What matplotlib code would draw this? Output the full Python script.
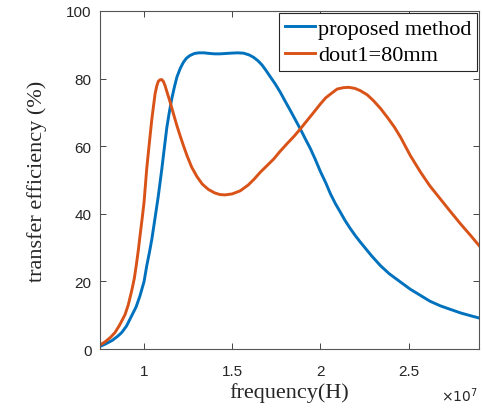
import numpy as np
import matplotlib.pyplot as plt

# frequency in units of 1e7 Hz, efficiency in %
freq_prop = [0.75, 0.78, 0.82, 0.85, 0.873, 0.90, 0.93, 0.955, 0.977, 1.0,
             1.015, 1.03, 1.044, 1.06, 1.08, 1.10, 1.115, 1.129, 1.143, 1.157,
             1.172, 1.186, 1.205, 1.223, 1.24, 1.26, 1.285, 1.31, 1.34, 1.375,
             1.40, 1.43, 1.46, 1.49, 1.53, 1.564, 1.595, 1.62, 1.645, 1.669,
             1.69, 1.716, 1.745, 1.773, 1.80, 1.83, 1.86, 1.886, 1.915, 1.943,
             1.97, 2.0, 2.03, 2.057, 2.085, 2.114, 2.14, 2.17, 2.2, 2.227,
             2.26, 2.29, 2.34, 2.39, 2.455, 2.51, 2.57, 2.62, 2.68, 2.74,
             2.795, 2.85, 2.90]
eff_prop = [0.8, 1.5, 2.6, 3.8, 4.9, 6.8, 9.9, 12.5, 15.8, 20.0,
            24.6, 28.5, 32.5, 38.0, 45.0, 53.0, 59.5, 65.5, 70.0, 74.0,
            77.5, 80.4, 83.0, 84.8, 86.0, 86.8, 87.4, 87.6, 87.6, 87.4,
            87.3, 87.3, 87.4, 87.5, 87.6, 87.5, 87.0, 86.3, 85.3, 84.0,
            82.5, 80.5, 78.3, 75.9, 73.3, 70.5, 67.6, 65.1, 62.1, 59.3,
            56.2, 52.5, 49.2, 45.9, 43.0, 40.4, 38.0, 35.6, 33.4, 31.6,
            29.5, 27.6, 24.7, 22.3, 19.8, 17.7, 15.8, 14.2, 12.8, 11.7,
            10.7, 9.9, 9.2]

freq_d80 = [0.75, 0.78, 0.81, 0.835, 0.86, 0.892, 0.91, 0.93, 0.945, 0.958,
            0.968, 0.977, 0.99, 1.0, 1.015, 1.03, 1.044, 1.0625, 1.072, 1.081,
            1.09, 1.10, 1.11, 1.119, 1.133, 1.148, 1.167, 1.186, 1.205, 1.223,
            1.245, 1.27, 1.30, 1.33, 1.365, 1.40, 1.43, 1.46, 1.50, 1.545,
            1.59, 1.625, 1.659, 1.70, 1.735, 1.77, 1.81, 1.85, 1.886, 1.92,
            1.962, 2.0, 2.03, 2.057, 2.095, 2.13, 2.16, 2.195, 2.227, 2.265,
            2.30, 2.34, 2.38, 2.42, 2.455, 2.51, 2.568, 2.62, 2.68, 2.74,
            2.795, 2.85, 2.90]
eff_d80 = [1.2, 2.2, 3.5, 4.9, 7.0, 10.2, 13.0, 17.3, 21.0, 25.6,
           29.5, 33.5, 39.0, 43.5, 53.3, 61.0, 68.0, 75.5, 77.8, 79.2,
           79.6, 79.7, 79.1, 77.9, 75.5, 73.0, 69.5, 66.1, 63.0, 60.2,
           57.0, 53.8, 51.0, 48.8, 47.2, 46.2, 45.7, 45.6, 45.9, 46.8,
           48.5, 50.3, 52.3, 54.4, 56.2, 58.4, 60.7, 62.9, 65.1, 67.3,
           70.0, 72.5, 74.3, 75.4, 76.9, 77.3, 77.4, 77.1, 76.4, 75.2,
           73.5, 71.2, 68.5, 65.6, 62.6, 57.2, 52.3, 48.3, 44.4, 40.5,
           37.0, 33.7, 30.6]

labels = ['proposed method', 'dout1=80mm']
xticks = [1, 1.5, 2, 2.5]
xticklabels = ['1', '1.5', '2', '2.5']
yticks = [0, 20, 40, 60, 80, 100]

serif = ['Liberation Serif', 'DejaVu Serif']
sans = ['Liberation Sans', 'DejaVu Sans']

fig = plt.figure(figsize=(4.83, 4.10), dpi=100)
ax = fig.add_axes([0.207, 0.146, 0.785, 0.825])

ax.plot(freq_prop, eff_prop, color='#0072BD', lw=2.1, label=labels[0])
ax.plot(freq_d80, eff_d80, color='#D95319', lw=2.1, label=labels[1])

ax.set_xlim(0.75, 2.9)
ax.set_ylim(0, 100)
ax.set_xticks(xticks)
ax.set_xticklabels(xticklabels)
ax.set_yticks(yticks)

ax.tick_params(direction='in', top=True, right=True, length=4, width=0.6,
               color='#262626', labelcolor='#262626', labelsize=11)
ax.tick_params(axis='x', pad=11)
ax.tick_params(axis='y', pad=6)
for lab in ax.get_xticklabels() + ax.get_yticklabels():
    lab.set_family(sans)
for sp in ax.spines.values():
    sp.set_color('#555555')
    sp.set_linewidth(0.8)

ax.set_xlabel('frequency(H)', family=serif, fontsize=16, color='#262626', labelpad=3)
ax.set_ylabel('transfer efficiency (%)', family=serif, fontsize=16, color='#262626', labelpad=14)
fig.text(0.99, 0.012, r'$\times10^7$', ha='right', va='bottom', fontsize=10,
         color='#262626', family=sans)

leg = ax.legend(loc='upper right', prop={'family': serif, 'size': 16},
                handlelength=1.35, handletextpad=0.15, borderpad=0.25,
                labelspacing=0.25, borderaxespad=0.1, fancybox=False,
                framealpha=1)
leg.get_frame().set_edgecolor('#262626')
leg.get_frame().set_linewidth(0.8)

plt.savefig('out.png', dpi=100)
